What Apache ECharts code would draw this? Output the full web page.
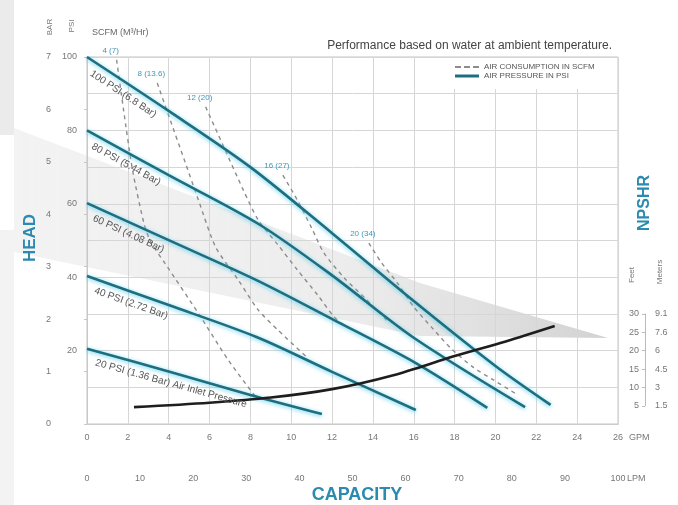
<!DOCTYPE html>
<html><head><meta charset="utf-8">
<script src="https://cdn.jsdelivr.net/npm/echarts@6/dist/echarts.min.js"></script>
<style>html,body{margin:0;padding:0;background:#fff}#c{width:678px;height:505px}</style>
</head><body><div id="c"></div>
<script>
// ---- tick labels ----
const psiTickLabels = [20, 40, 60, 80, 100];
const npshrFeetTicks = [5, 10, 15, 20, 25, 30];
const npshrMeterTicks = ['1.5', '3', '4.5', '6', '7.6', '9.1'];

// ---- air pressure curves: [GPM, PSI] ----
const psi100 = [[0,100],[4,85.3],[8,70],[12,52],[16,33.5],[20,15.8],[22.7,5.2]];
const psi80  = [[0,80],[4,67.8],[8.4,54.5],[12,40.5],[16,23.5],[21.45,4.6]];
const psi60  = [[0,60.2],[4,50.1],[8.3,39.2],[12.1,28.3],[16.1,16.6],[19.6,4.4]];
const psi40  = [[0,40.3],[4,32.4],[8.3,23.7],[12,14.2],[16.1,3.8]];
const psi20  = [[0,20.5],[4,14.3],[8,7.9],[11.5,2.7]];
const pressureLabels = ['100 PSI (6.8 Bar)','80 PSI (5.44 Bar)','60 PSI (4.08 Bar)','40 PSI (2.72 Bar)','20 PSI (1.36 Bar) Air Inlet Pressure'];

// ---- air consumption curves: [GPM, PSI] ----
const scfm4  = [[1.45,99.2],[1.79,85.6],[2.23,69.2],[2.81,54.2],[3.15,49.3],[3.78,44.1],[5.47,30.0],[6.92,17.4],[8.23,7.6]];
const scfm8  = [[3.44,92.9],[4.02,83.7],[4.75,72.2],[5.47,60.8],[6.3,48.2],[7.41,39.2],[8.38,31.1],[9.35,25.6],[10.8,18.0]];
const scfm12 = [[5.81,86.4],[6.68,75.7],[7.65,63.8],[8.38,55.6],[9.35,48.8],[10.3,42.0],[11.3,35.1],[12.1,29.2],[12.7,26.4]];
const scfm16 = [[9.59,67.8],[10.3,61.0],[11.0,53.4],[11.6,46.6],[12.6,39.8],[13.7,33.8],[14.8,27.5]];
const scfm20 = [[13.8,49.3],[14.4,44.1],[15.2,38.4],[16.0,31.9],[16.9,26.2],[17.8,20.7],[18.9,15.5],[19.9,12.0],[21.1,7.9]];
const scfmLabels = ['4 (7)','8 (13.6)','12 (20)','16 (27)','20 (34)'];

// ---- NPSHR curve: [GPM, feet] ----
const npshr = [[2.3,4.6],[6,5.8],[9,7.2],[12,9.5],[15,13.3],[18,18.5],[20.5,22.5],[22.9,26.7]];

const TEAL = '#1d6e7e';
const DASH = '#8c8c8c';
const TITLE = '#2a8ab0';
const AX = '#777';
const FONT = 'Liberation Sans, Arial, sans-serif';

const pressureSets = [psi100, psi80, psi60, psi40, psi20];
const scfmSets = [scfm4, scfm8, scfm12, scfm16, scfm20];

const series = [];
scfmSets.forEach((d, i) => {
  series.push({
    type: 'line', name: 'AIR CONSUMPTION IN SCFM', data: d, smooth: 0.25,
    symbol: 'none', z: 2, itemStyle: { color: DASH },
    lineStyle: { color: DASH, width: 1.4, type: [4, 4] },
    markPoint: {
      silent: true, symbol: 'circle', symbolSize: 1, itemStyle: { color: 'rgba(0,0,0,0)' },
      label: { show: true, position: 'top', distance: 5, offset: [-6, 0], color: '#3a98b8', fontSize: 8, fontFamily: FONT, formatter: () => scfmLabels[i] },
      data: [{ coord: d[0] }]
    }
  });
});
pressureSets.forEach((d, i) => {
  series.push({
    type: 'line', name: 'AIR PRESSURE IN PSI', data: d, smooth: 0.3,
    symbol: 'none', z: 3, itemStyle: { color: TEAL },
    lineStyle: { color: TEAL, width: 2.6, shadowColor: 'rgba(90,205,235,0.95)', shadowBlur: 4, shadowOffsetY: 1 },
    markLine: {
      silent: true, symbol: 'none',
      lineStyle: { width: 0, color: 'rgba(0,0,0,0)' },
      label: { show: true, position: 'insideStartBottom', distance: 6, padding: [0, 0, 0, 6], color: '#555', fontSize: 10, fontFamily: FONT, formatter: () => pressureLabels[i] },
      data: [[{ coord: d[0] }, { coord: d[1] }]]
    }
  });
});
series.push({
  type: 'line', name: 'NPSHR', data: npshr, yAxisIndex: 2, smooth: 0.3, symbol: 'none', z: 4,
  itemStyle: { color: '#1e1e1e' }, lineStyle: { color: '#1e1e1e', width: 2.6 }
});

const chart = echarts.init(document.getElementById('c'));
chart.setOption({
  animation: false,
  textStyle: { fontFamily: FONT },
  title: [
    { text: 'Performance based on water at ambient temperature.', right: 61, top: 35,
      textStyle: { fontSize: 12, fontWeight: 'normal', color: '#444', fontFamily: FONT } },
    { text: 'CAPACITY', left: 352, top: 481, textAlign: 'center',
      textStyle: { fontSize: 18, fontWeight: 'bold', color: TITLE, fontFamily: 'Liberation Sans Narrow, ' + FONT } }
  ],
  legend: {
    data: [
      { name: 'AIR CONSUMPTION IN SCFM', icon: 'path://M0,4h6v2h-6z M9,4h6v2h-6z M18,4h6v2h-6z', itemStyle: { color: DASH } },
      { name: 'AIR PRESSURE IN PSI', icon: 'path://M0,3.5h24v3h-24z', itemStyle: { color: TEAL } }
    ],
    orient: 'vertical', left: 453, top: 58, itemWidth: 24, itemHeight: 9, itemGap: 1,
    padding: [5, 20, 9, 2], backgroundColor: '#fff', selectedMode: false,
    textStyle: { fontSize: 8, color: '#555', fontFamily: FONT }
  },
  grid: [
    { left: 87, top: 57, width: 531, height: 367, show: true, borderColor: '#c4c4c4', borderWidth: 1 },
    { left: 645, top: 314, width: 1, height: 91.75 }
  ],
  xAxis: [
    { gridIndex: 0, type: 'value', min: 0, max: 26, interval: 2, position: 'bottom',
      axisLine: { show: true, lineStyle: { color: '#bbb' } }, axisTick: { show: false },
      axisLabel: { color: AX, fontSize: 9, margin: 9 },
      splitLine: { show: true, lineStyle: { color: '#d6d6d6' } },
      name: 'GPM', nameLocation: 'end', nameGap: 6,
      nameTextStyle: { color: AX, fontSize: 9, verticalAlign: 'top', padding: [9, 0, 0, 0] } },
    { gridIndex: 0, type: 'value', min: 0, max: 100, interval: 10, position: 'bottom', offset: 44,
      axisLine: { show: true, lineStyle: { color: '#ccc' } }, axisTick: { show: false },
      axisLabel: { color: AX, fontSize: 9, margin: 6 }, splitLine: { show: false } },
    { gridIndex: 1, type: 'value', show: false }
  ],
  yAxis: [
    { gridIndex: 0, type: 'value', min: 0, max: 100, interval: 10, position: 'left',
      axisLine: { show: false }, axisTick: { show: false },
      axisLabel: { color: AX, fontSize: 9, margin: 10, formatter: v => psiTickLabels.includes(v) ? String(v) : '' },
      splitLine: { show: true, lineStyle: { color: '#d6d6d6' } } },
    { gridIndex: 0, type: 'value', min: 0, max: 7, interval: 1, position: 'left', offset: 30,
      axisLine: { show: true, lineStyle: { color: '#c8c8c8' } }, axisTick: { show: true, length: 3, lineStyle: { color: '#c8c8c8' } },
      axisLabel: { color: AX, fontSize: 9, margin: 6 }, splitLine: { show: false } },
    { gridIndex: 0, type: 'value', min: 0, max: 100, show: false },
    { gridIndex: 1, type: 'value', min: 5, max: 30, interval: 5, position: 'left',
      axisLine: { show: true, lineStyle: { color: '#bbb' } }, axisTick: { show: true, length: 3, lineStyle: { color: '#bbb' } },
      axisLabel: { color: AX, fontSize: 9, margin: 6, formatter: v => npshrFeetTicks.includes(v) ? String(v) : '' },
      splitLine: { show: false } },
    { gridIndex: 1, type: 'value', min: 5, max: 30, interval: 5, position: 'right',
      axisLine: { show: false }, axisTick: { show: false },
      axisLabel: { color: AX, fontSize: 9, margin: 9, formatter: v => { const k = npshrFeetTicks.indexOf(v); return k >= 0 ? npshrMeterTicks[k] : ''; } },
      splitLine: { show: false } }
  ],
  graphic: [
    { type: 'rect', z: -10, shape: { x: 0, y: 0, width: 14, height: 135 }, style: { fill: '#ebebeb' } },
    { type: 'rect', z: -10, shape: { x: 0, y: 230, width: 14, height: 275 }, style: { fill: '#f3f3f3' } },
    { type: 'polygon', z: -9, shape: { points: [[14,128],[420,283],[608,338],[420,336],[14,252]] },
      style: { fill: new echarts.graphic.LinearGradient(0, 0, 1, 0, [
        { offset: 0, color: 'rgba(228,228,228,0.45)' },
        { offset: 0.55, color: 'rgba(222,222,222,0.55)' },
        { offset: 1, color: 'rgba(205,205,205,0.9)' }]) } },
    { type: 'text', x: 30, y: 238, rotation: Math.PI / 2,
      style: { text: 'HEAD', align: 'center', verticalAlign: 'middle', fill: TITLE, font: 'bold 17px ' + FONT } },
    { type: 'text', x: 645, y: 203, rotation: Math.PI / 2,
      style: { text: 'NPSHR', align: 'center', verticalAlign: 'middle', fill: TITLE, font: 'bold 16px ' + FONT } },
    { type: 'text', x: 632, y: 275, rotation: Math.PI / 2,
      style: { text: 'Feet', align: 'center', verticalAlign: 'middle', fill: AX, font: '8px ' + FONT } },
    { type: 'text', x: 660, y: 272, rotation: Math.PI / 2,
      style: { text: 'Meters', align: 'center', verticalAlign: 'middle', fill: AX, font: '8px ' + FONT } },
    { type: 'text', x: 50, y: 27, rotation: Math.PI / 2,
      style: { text: 'BAR', align: 'center', verticalAlign: 'middle', fill: AX, font: '8px ' + FONT } },
    { type: 'text', x: 72, y: 26, rotation: Math.PI / 2,
      style: { text: 'PSI', align: 'center', verticalAlign: 'middle', fill: AX, font: '8px ' + FONT } },
    { type: 'text', x: 92, y: 33,
      style: { text: 'SCFM (M³/Hr)', align: 'left', verticalAlign: 'middle', fill: '#666', font: '9px ' + FONT } },
    { type: 'text', x: 627, y: 479,
      style: { text: 'LPM', align: 'left', verticalAlign: 'middle', fill: AX, font: '9px ' + FONT } }
  ],
  series: series
});
</script>
</body></html>
